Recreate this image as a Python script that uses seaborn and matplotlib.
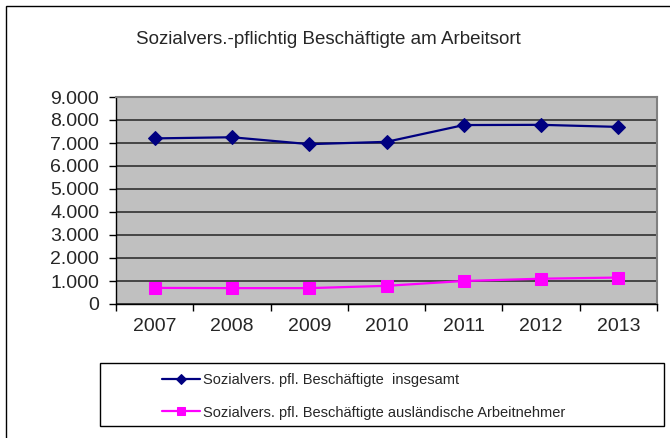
import matplotlib
matplotlib.use("Agg")
import matplotlib.pyplot as plt
import matplotlib.patches as mpatches
from matplotlib.ticker import FuncFormatter, FixedLocator
import pandas as pd
import seaborn as sns

# data
years = [2007, 2008, 2009, 2010, 2011, 2012, 2013]
insgesamt = [7200, 7250, 6950, 7050, 7780, 7790, 7700]
auslaender = [700, 690, 690, 790, 1000, 1100, 1150]
labels = ["Sozialvers. pfl. Beschäftigte  insgesamt",
          "Sozialvers. pfl. Beschäftigte ausländische Arbeitnehmer"]
title = "Sozialvers.-pflichtig Beschäftigte am Arbeitsort"

df = pd.DataFrame({"Jahr": years, labels[0]: insgesamt, labels[1]: auslaender})

sns.set_style("white")
plt.rcParams["font.family"] = ["Liberation Sans", "DejaVu Sans"]

W, H = 670, 438
fig = plt.figure(figsize=(W / 100, H / 100), dpi=100)
# plot area in pixels: left 116, right 657, top 97, bottom 304
ax = fig.add_axes([116 / W, 1 - 304 / H, (657 - 116) / W, (304 - 97) / H])
ax.set_facecolor("#C0C0C0")

sns.lineplot(data=df, x="Jahr", y=labels[0], ax=ax, color="#000080", marker="D",
             markersize=7, markeredgecolor="#000080", linewidth=1.6, label=labels[0], legend=False)
sns.lineplot(data=df, x="Jahr", y=labels[1], ax=ax, color="#FF00FF", marker="s",
             markersize=8, markeredgecolor="#FF00FF", linewidth=1.6, label=labels[1], legend=False)

ax.set_xlim(years[0] - 0.5, years[-1] + 0.5)
ax.set_ylim(0, 9000)
ax.set_yticks(range(0, 9001, 1000))
ax.yaxis.set_major_formatter(FuncFormatter(lambda v, p: f"{int(v):,}".replace(",", ".")))
ax.grid(axis="y", color="#303030", linewidth=1.2)
ax.set_axisbelow(True)

# category boundaries as major ticks, labels on minor ticks in the middle
ax.xaxis.set_major_locator(FixedLocator([y - 0.5 for y in years] + [years[-1] + 0.5]))
ax.xaxis.set_major_formatter(FuncFormatter(lambda v, p: ""))
ax.xaxis.set_minor_locator(FixedLocator(years))
ax.xaxis.set_minor_formatter(FuncFormatter(lambda v, p: str(int(round(v)))))
ax.tick_params(axis="x", which="major", length=5, width=1, color="black", direction="out", bottom=True)
ax.tick_params(axis="x", which="minor", length=0, labelsize=14, pad=10)
ax.tick_params(axis="y", length=5, width=1, color="black", direction="out", left=True, labelsize=14, pad=7)
ax.set_xlabel("")
ax.set_ylabel("")

for side in ["left", "bottom"]:
    ax.spines[side].set_color("black")
    ax.spines[side].set_linewidth(1)
for side in ["top", "right"]:
    ax.spines[side].set_color("#808080")
    ax.spines[side].set_linewidth(1.5)

fig.text(328 / W, 1 - 40 / H, title, ha="center", va="center", fontsize=13.5)

# outer chart frame
fig.patches.append(mpatches.Rectangle((6 / W, -0.1), 1.2, 1.1 - 6 / H, transform=fig.transFigure,
                                      fill=False, edgecolor="black", linewidth=1))
# legend box
fig.patches.append(mpatches.Rectangle((100 / W, 1 - 426 / H), (664 - 100) / W, (426 - 363) / H,
                                      transform=fig.transFigure, fill=False, edgecolor="black", linewidth=1))
handles, lbls = ax.get_legend_handles_labels()
fig.legend(handles, lbls, loc="upper left", bbox_to_anchor=(155 / W, 1 - 366 / H), frameon=False,
           fontsize=10.5, handlelength=2.6, handletextpad=0.2, labelspacing=1.25, borderpad=0,
           markerscale=0.7)

fig.savefig("out.png", dpi=100)
